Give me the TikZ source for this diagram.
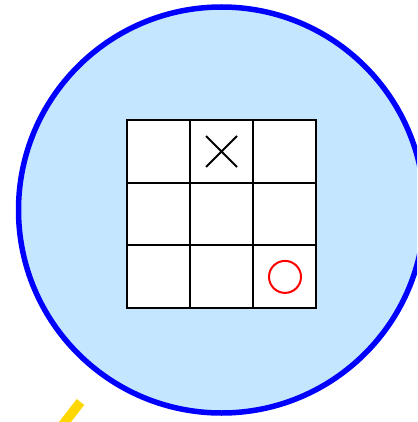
\documentclass[tikz,border=0pt]{standalone}
\begin{document}
\begin{tikzpicture}[x=1pt,y=-1pt,
  lens/.style={draw={rgb,255:red,0;green,0;blue,255},line width=5.5pt,fill={rgb,255:red,196;green,230;blue,255}},
  cellbox/.style={draw=black,line width=2pt,fill=white,minimum size=63pt,inner sep=0pt},
  handle/.style={draw={rgb,255:red,255;green,215;blue,0},line width=9.5pt}]
\useasboundingbox (0,0) rectangle (417,422);
\begin{scope}
\clip (0,0) rectangle (417,422);
\coordinate (hs) at (80.5,402);
\coordinate (he) at (30,467);
\draw[handle] (hs) -- (he);
\coordinate (gc) at (221.5,210);
\draw[lens] (gc) circle[radius=203];
\end{scope}
\foreach \r in {0,1,2}{
  \foreach \c in {0,1,2}{
    \node[cellbox] (c\r\c) at (158.5+63*\c,151.5+62.7*\r) {};
  }
}
\draw[line width=2pt,black] ([shift={(-15.5,-15.5)}]c01.center) -- ([shift={(15.5,15.5)}]c01.center)
  ([shift={(15.5,-15.5)}]c01.center) -- ([shift={(-15.5,15.5)}]c01.center);
\node[circle,draw=red,line width=2pt,minimum size=32pt,inner sep=0pt] (o) at ([shift={(0.5,0)}]c22.center) {};
\end{tikzpicture}
\end{document}
